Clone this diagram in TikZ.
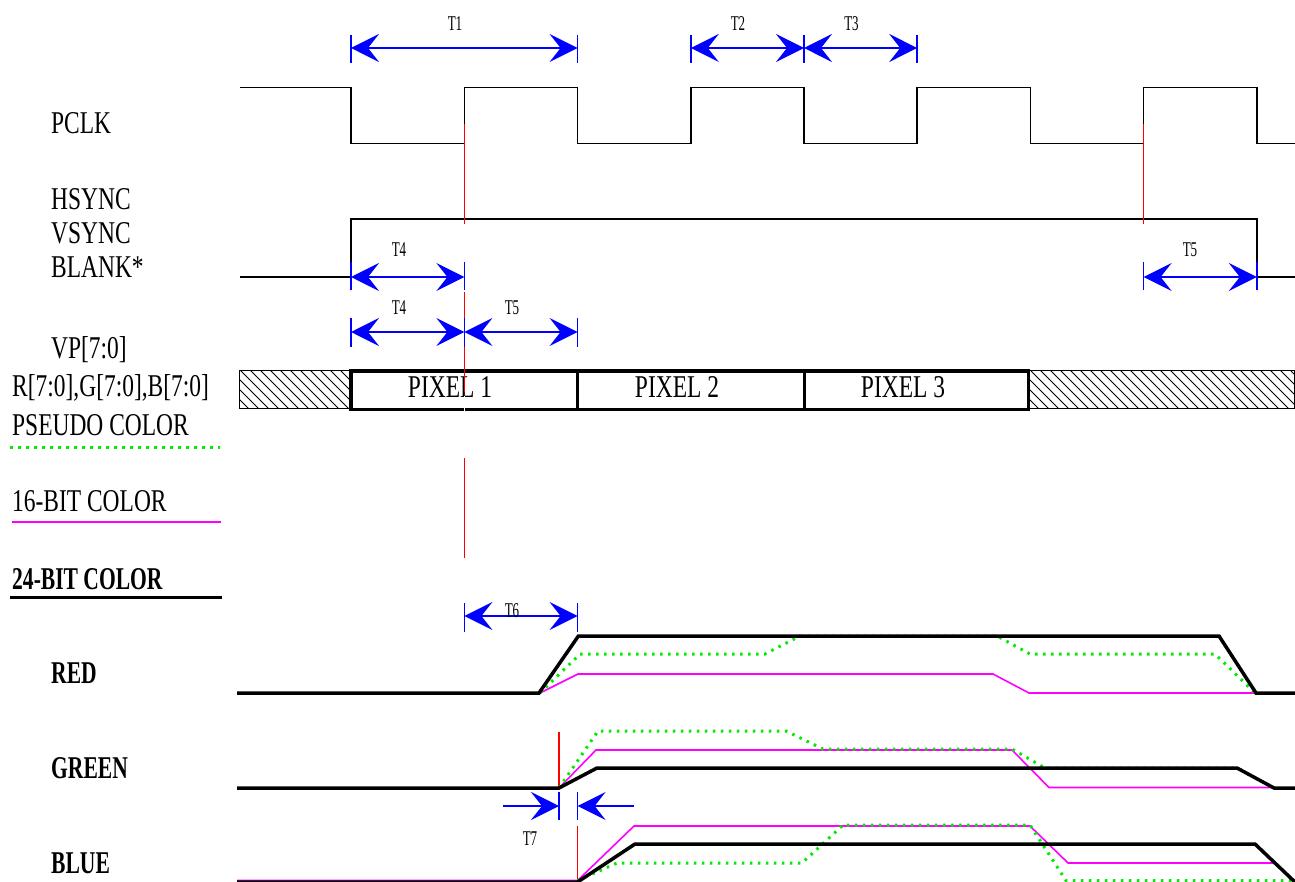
\documentclass[tikz,border=0pt]{standalone}
\usepackage{fontspec}
\setmainfont{Liberation Serif}[FakeStretch=0.74]
\newfontfamily\tfont{Liberation Serif}[FakeStretch=0.62]
\newfontfamily\bfont{Liberation Serif}[FakeStretch=0.68]
\usetikzlibrary{arrows.meta}
\definecolor{dimblue}{RGB}{0,0,255}
\definecolor{pgreen}{RGB}{0,235,0}
\definecolor{pmag}{RGB}{255,0,255}
\definecolor{mkred}{RGB}{255,0,0}
\tikzset{
  lab/.style={font=\fontsize{31.7}{36}\selectfont, anchor=base west, inner sep=0pt},
  blab/.style={font=\bfont\bfseries\fontsize{31.7}{36}\selectfont, anchor=base west, inner sep=0pt},
  tlab/.style={font=\tfont\fontsize{21}{24}\selectfont, anchor=base, inner sep=0pt},
  plab/.style={font=\fontsize{31.7}{36}\selectfont, anchor=base, inner sep=0pt},
  wave/.style={black, line width=1.5pt},
  dimtip/.tip={Stealth[length=28pt,width=28pt,inset=11pt]},
  dimline/.style={dimblue, line width=2pt, dimtip-dimtip},
  dimone/.style={dimblue, line width=2pt, -dimtip},
  tickline/.style={dimblue, line width=1.5pt},
  marker/.style={mkred, line width=1.6pt},
  pixbox/.style={draw=black, line width=3.5pt},
  hatchline/.style={black, line width=0.8pt},
  thickwave/.style={black, line width=3.5pt, line join=miter},
  magwave/.style={pmag, line width=1.6pt},
  pseudo/.style={pgreen, line width=3pt, dash pattern=on 2.5pt off 5.5pt},
}
\begin{document}
\begin{tikzpicture}[x=1pt,y=-1pt]
\useasboundingbox (0,0) rectangle (1295,882);
\fill[white] (0,0) rectangle (1295,882);

% ---------- labels ----------
\node[lab] (pclk) at (51,133.3) {PCLK};
\node[lab] (hsync) at (51,210) {HSYNC};
\node[lab] (vsync) at (51,243.5) {VSYNC};
\node[lab] (blank) at (51,278) {BLANK*};
\node[lab] (vp) at (51,358) {VP[7:0]};
\node[lab] (rgb) at (12,396) {R[7:0],G[7:0],B[7:0]};
\node[lab] (pseudolab) at (12,435) {PSEUDO COLOR};
\node[lab] (sixteen) at (12,511) {16-BIT COLOR};
\node[blab] (twentyfour) at (12,589) {24-BIT COLOR};
\node[blab] (red) at (51,683) {RED};
\node[blab] (green) at (51,778) {GREEN};
\node[blab] (blue) at (51,873) {BLUE};

% legend lines
\draw[pseudo] (10,447) -- (220,447);
\draw[pmag, line width=2pt] (12,521.7) -- (220.5,521.7);
\draw[black, line width=2.5pt] (10,597.7) -- (222,597.7);

% ---------- PCLK ----------
\draw[wave] (240,87.3) -- (351,87.3) -- (351,143.3) -- (464.4,143.3) -- (464.4,87.3)
  -- (577.6,87.3) -- (577.6,143.3) -- (690.8,143.3) -- (690.8,87.3) -- (804,87.3)
  -- (804,143.3) -- (917.2,143.3) -- (917.2,87.3) -- (1030.4,87.3) -- (1030.4,143.3)
  -- (1143.6,143.3) -- (1143.6,87.3) -- (1256.8,87.3) -- (1256.8,143.3) -- (1295,143.3);

% ---------- HSYNC ----------
\draw[wave] (240,277) -- (351,277) -- (351,219) -- (1256.8,219) -- (1256.8,277) -- (1295,277);

% ---------- data row ----------
\begin{scope}
  \clip (239,370) rectangle (351,408.5);
  \foreach \x in {190,200,...,360} \draw[hatchline] (\x,370) -- (\x+38.5,408.5);
\end{scope}
\draw[black, line width=0.9pt] (239,370) rectangle (351,408.5);
\begin{scope}
  \clip (1028.4,370) rectangle (1294,408.5);
  \foreach \x in {980,990,...,1300} \draw[hatchline] (\x,370) -- (\x+38.5,408.5);
\end{scope}
\draw[black, line width=0.9pt] (1028.4,370) rectangle (1294,408.5);

\draw[pixbox] (351,371) rectangle (1028.4,409.5);
\draw[pixbox] (577.6,371) -- (577.6,409.5);
\draw[pixbox] (804.3,371) -- (804.3,409.5);
\node[plab] (p1) at (450,397) {PIXEL 1};
\node[plab] (p2) at (677,397) {PIXEL 2};
\node[plab] (p3) at (903,397) {PIXEL 3};

% ---------- red markers ----------
\draw[marker] (464.4,124) -- (464.4,224);
\draw[marker] (464.4,292) -- (464.4,392);
\draw[white, line width=1.5pt] (464.4,396) -- (464.4,413);
\draw[marker] (464.4,458) -- (464.4,558);
\draw[marker] (1143.6,124) -- (1143.6,224);
\draw[marker] (559,731.7) -- (559,788);
\draw[marker] (577.6,826) -- (577.6,882);

% ---------- dimensions ----------
\coordinate (a1) at (351,48);   \coordinate (a2) at (577.6,48);
\coordinate (a3) at (690.8,48); \coordinate (a4) at (804,48); \coordinate (a5) at (917.2,48);
\foreach \x in {351,577.6,690.8,804,917.2} \draw[tickline] (\x,35) -- (\x,63);
\draw[dimline] (a1) -- (a2);
\draw[dimline] (a3) -- (a4);
\draw[dimline] (a4) -- (a5);
\node[tlab] (t1) at (455,31) {T1};
\node[tlab] (t2) at (738,31) {T2};
\node[tlab] (t3) at (851.5,31) {T3};

\coordinate (b1) at (351,277); \coordinate (b2) at (464.4,277);
\coordinate (b3) at (1143.6,277); \coordinate (b4) at (1256.8,277);
\foreach \x in {351,464.4,1143.6,1256.8} \draw[tickline] (\x,262) -- (\x,290);
\draw[dimline] (b1) -- (b2);
\draw[dimline] (b3) -- (b4);
\node[tlab] (t4a) at (399,257) {T4};
\node[tlab] (t5a) at (1190,257) {T5};

\coordinate (c1) at (351,332); \coordinate (c2) at (464.4,332); \coordinate (c3) at (577.6,332);
\foreach \x in {351,464.4,577.6} \draw[tickline] (\x,318) -- (\x,347);
\draw[dimline] (c1) -- (c2);
\draw[dimline] (c2) -- (c3);
\node[tlab] (t4b) at (399,315) {T4};
\node[tlab] (t5b) at (512,315) {T5};

\coordinate (d1) at (464.4,616); \coordinate (d2) at (577.6,616);
\foreach \x in {464.4,577.6} \draw[tickline] (\x,603) -- (\x,632);
\draw[dimline] (d1) -- (d2);
\node[tlab] (t6) at (512,617) {T6};

\coordinate (e0) at (503,806); \coordinate (e1) at (559,806);
\coordinate (e2) at (577.6,806); \coordinate (e3) at (634,806);
\foreach \x in {559,577.6} \draw[tickline] (\x,792) -- (\x,820);
\draw[dimone] (e0) -- (e1);
\draw[dimone] (e3) -- (e2);
\node[tlab] (t7) at (530,845) {T7};

% ---------- RED ----------
\draw[magwave] (237,693) -- (540,693) -- (578,674) -- (993,674) -- (1029,693) -- (1295,693);
\draw[pseudo] (540,693) -- (580,654) -- (765,654) -- (800,636) -- (997,636) -- (1030,654)
  -- (1215,654) -- (1255,693);
\draw[thickwave] (237,693) -- (539,693) -- (578.4,636) -- (1219,636) -- (1256,693) -- (1295,693);

% ---------- GREEN ----------
\draw[magwave] (559,788) -- (596,750) -- (1012,750) -- (1049,787.5) -- (1274,787.5);
\draw[pseudo] (559,788) -- (598,731) -- (786,731) -- (823,749) -- (1012,749) -- (1045,768)
  -- (1237,768) -- (1274,788);
\draw[thickwave] (237,788) -- (559,788) -- (597,768) -- (1237,768) -- (1274,788) -- (1295,788);

% ---------- BLUE ----------
\draw[magwave] (237,880.5) -- (577.6,880.5) -- (634,826) -- (1030,826) -- (1068,863) -- (1274,863) -- (1295,881);
\draw[pseudo] (577.6,880.5) -- (617,863) -- (802,863) -- (843,825) -- (1030,825) -- (1066,880.5) -- (1295,880.5);
\draw[thickwave] (237,882) -- (577.6,882) -- (635,844) -- (1255,844) -- (1297,884);
\end{tikzpicture}
\end{document}
